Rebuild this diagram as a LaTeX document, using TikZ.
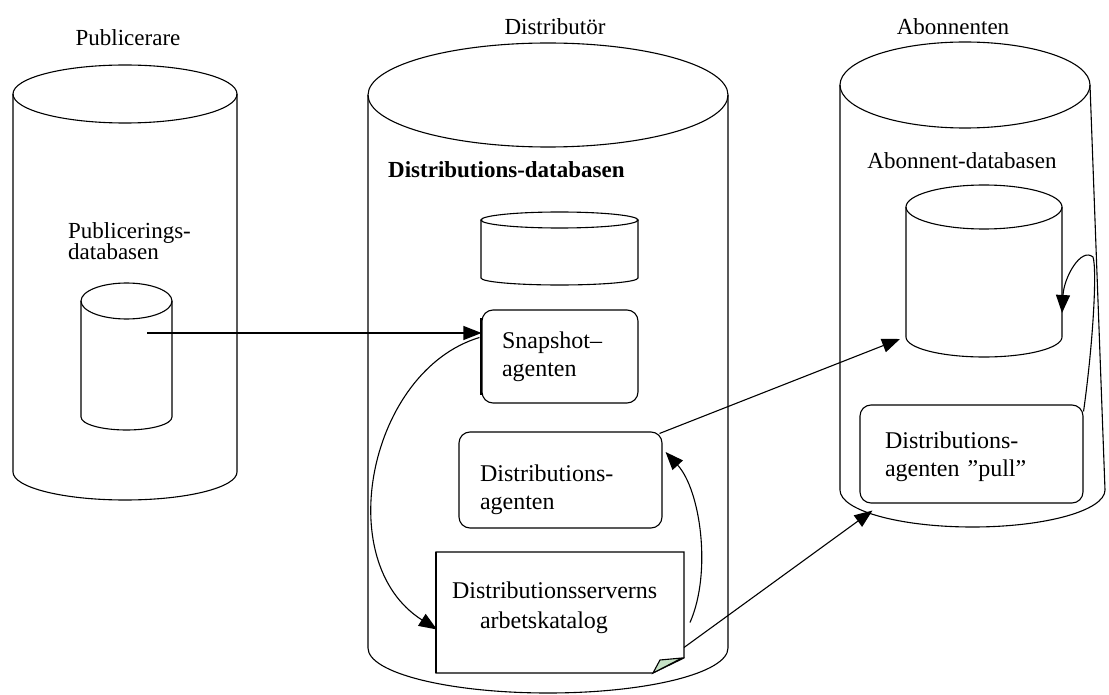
\documentclass[tikz,border=0pt]{standalone}
\usepackage{fontspec}
\setmainfont{Liberation Serif}
\usetikzlibrary{arrows.meta}

\definecolor{foldgreen}{RGB}{198,226,198}

\tikzset{
  line/.style={line width=1.1pt, draw=black},
  arr/.style={line, -{Triangle[length=18pt,width=14pt]}},
  lbl/.style={font=\fontsize{23}{21}\selectfont, inner sep=0pt, align=left},
  agentbox/.style={line, rounded corners=11pt, align=left,
    font=\fontsize{24}{28}\selectfont, inner sep=0pt},
  hold/.style={inner sep=0pt, outer sep=0pt, draw=none},
}

% cylinder: centre x, top y, bottom y, x radius, top y radius, bottom y radius
\newcommand\cylshape[6]{%
  \draw[line] (#1,#2) ellipse [x radius=#4pt, y radius=#5pt];
  \draw[line] (#1-#4,#2) -- (#1-#4,#3)
    arc[start angle=180, end angle=360, x radius=#4pt, y radius=#6pt]
    -- (#1+#4,#2);
}

\begin{document}
\begin{tikzpicture}[x=1pt, y=-1pt]
\useasboundingbox (0,0) rectangle (1109,695);

% --- outer containers ---
\cylshape{125}{94}{472}{112}{29}{28}
\cylshape{548}{95}{648}{180}{52}{45}
\draw[line] (965,85) ellipse [x radius=125pt, y radius=43pt];
\draw[line] (840,85) -- (840,490)
  arc[start angle=180, end angle=360, x radius=132.5pt, y radius=37pt]
  -- (1090,85);

\node[lbl] (publicerare) at (128,38) {Publicerare};
\node[lbl] (distributor) at (555,27) {Distributör};
\node[lbl] (abonnenten)  at (953,27) {Abonnenten};

% --- databases ---
\node[lbl, anchor=north west] (publbl) at (68,222) {Publicerings-\\databasen};
\node[hold, minimum width=91pt, minimum height=116pt] (pubdb) at (126.5,359) {};
\cylshape{126.5}{301}{417}{45.5}{18}{13}

\node[lbl, anchor=base west, font=\fontsize{23}{23}\selectfont\bfseries]
  (distlbl) at (388,178) {Distributions-databasen};
\node[hold, minimum width=157pt, minimum height=58pt] (distdb) at (559.5,249) {};
\cylshape{559.5}{220}{278}{78.5}{8}{7}

\node[lbl, anchor=base] (ablbl) at (962,169) {Abonnent-databasen};
\node[hold, minimum width=156pt, minimum height=130pt] (abdb) at (984,272) {};
\cylshape{984}{207}{337}{78}{22}{20}

% --- agents ---
\node[agentbox, minimum width=156pt, minimum height=93pt, text width=116pt]
  (snap) at (560,356.5) {Snapshot–\\agenten};
\draw[line width=2pt] ([yshift=-9pt]snap.north west) -- ([yshift=9pt]snap.south west);

\node[agentbox, minimum width=203pt, minimum height=96pt, text width=161pt, text depth=14pt]
  (dist) at (560.5,480) {Distributions-\\agenten};

\node[agentbox, minimum width=223pt, minimum height=98pt, text width=173pt, text depth=27pt]
  (pull) at (971.5,454) {Distributions-\\agenten ”pull”};

% --- working directory (document with folded corner) ---
\node[hold, minimum width=248pt, minimum height=121pt, align=left, text width=216pt,
  font=\fontsize{24}{30}\selectfont, text depth=45pt]
  (kat) at (560,612.5) {Distributionsserverns\\\hspace*{28pt}arbetskatalog};
\draw[line] (kat.north west) -- (kat.north east) -- ([yshift=15pt]kat.south east)
  -- ([xshift=-31pt]kat.south east) -- (kat.south west) -- cycle;
\draw[line, fill=foldgreen] ([xshift=-31pt]kat.south east)
  -- ([xshift=-24pt,yshift=13pt]kat.south east)
  -- ([xshift=-2pt,yshift=15pt]kat.south east) -- cycle;
\draw[line width=2.6pt] (kat.north west) -- (kat.south west);

% --- connectors ---
\coordinate (pubout) at (147,333);
\draw[arr] (pubout) -- (pubout -| snap.west);

\draw[arr] ([xshift=-2pt,yshift=19pt]snap.west)
  .. controls +(-110,33) and +(-107,-68) .. ([xshift=1pt,yshift=-17pt]kat.west);

\draw[arr] ([xshift=6pt,yshift=-10pt]kat.east)
  .. controls +(22,-50) and +(35,38) .. ([xshift=3pt,yshift=28pt]dist.east);

\draw[arr] ([xshift=-3pt,yshift=-2pt]dist.north east) -- ([xshift=-6pt,yshift=-2pt]abdb.south west);

\draw[arr] ([yshift=-35pt]kat.east) -- ([xshift=13pt,yshift=-7pt]pull.south west);

\coordinate (looptop) at (1093,257);
\draw[arr] ([yshift=-7pt]pull.north east)
  .. controls +(10,-72) and +(4,12) .. (looptop)
  .. controls +(-12,-10) and +(2,-36) .. ([yshift=-41pt]abdb.east);

\end{tikzpicture}
\end{document}
